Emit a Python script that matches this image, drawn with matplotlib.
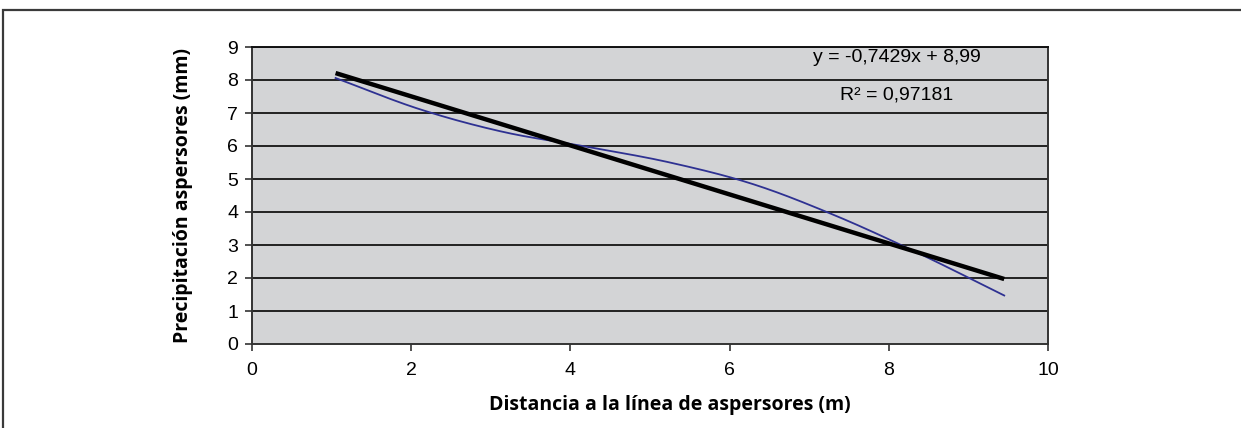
import numpy as np
import matplotlib
matplotlib.use('Agg')
import matplotlib.pyplot as plt
from matplotlib.patches import Rectangle

# data
distancia = [1.05, 2.10, 3.15, 4.20, 5.25, 6.30, 7.35, 8.40, 9.45]
precipitacion = [8.06, 7.12, 6.43, 5.98, 5.50, 4.84, 3.87, 2.72, 1.47]
pendiente = -0.7429
ordenada = 8.99
r2 = 0.97181
xticks = [0, 2, 4, 6, 8, 10]
yticks = list(range(10))


def catmull_rom(x, y, n=30):
    # smoothed line like the spreadsheet does it
    x = np.asarray(x, float)
    y = np.asarray(y, float)
    px = np.concatenate([[2 * x[0] - x[1]], x, [2 * x[-1] - x[-2]]])
    py = np.concatenate([[2 * y[0] - y[1]], y, [2 * y[-1] - y[-2]]])
    xs, ys = [], []
    t = np.linspace(0, 1, n)
    for i in range(1, len(px) - 2):
        for p, out in ((px, xs), (py, ys)):
            p0, p1, p2, p3 = p[i - 1], p[i], p[i + 1], p[i + 2]
            out.extend(0.5 * ((2 * p1) + (-p0 + p2) * t
                              + (2 * p0 - 5 * p1 + 4 * p2 - p3) * t ** 2
                              + (-p0 + 3 * p1 - 3 * p2 + p3) * t ** 3))
    return np.array(xs), np.array(ys)


W, H = 1241, 428
fig = plt.figure(figsize=(W / 100, H / 100), dpi=100)
fig.patch.set_facecolor('white')

# outer frame (runs off the image on the right and bottom)
fig.patches.append(Rectangle((3 / W, -0.2), 1.2, 1.2 - 10 / H,
                             transform=fig.transFigure, fill=False,
                             edgecolor='#3a3a3a', lw=1.6))

ax = fig.add_axes([252 / W, 1 - 344 / H, (1048 - 252) / W, (344 - 47) / H])
ax.set_facecolor('#d3d4d6')
ax.set_xlim(0, 10)
ax.set_ylim(0, 9)
ax.set_xticks(xticks)
ax.set_yticks(yticks)

for v in yticks[1:]:
    ax.axhline(v, color='#222222', lw=1.4, zorder=1)

sx, sy = catmull_rom(distancia, precipitacion)
ax.plot(sx, sy, color='#2e3192', lw=1.3, zorder=3)

xt = np.array([distancia[0], distancia[-1]])
ax.plot(xt, pendiente * xt + ordenada, color='black', lw=3.2,
        solid_capstyle='butt', zorder=4)

tfont = dict(family='Liberation Sans', size=14)
ax.text(8.1, 8.67, 'y = -0,7429x + 8,99', ha='center', va='center', **tfont)
ax.text(8.1, 7.55, 'R² = ' + str(r2).replace('.', ','), ha='center',
        va='center', **tfont)

for s in ax.spines.values():
    s.set_color('#333333')
    s.set_linewidth(1.4)
ax.spines['top'].set_color('#111111')

ax.tick_params(direction='out', length=5, width=1.2, color='#333333',
               labelsize=14, pad=5)
for lab in ax.get_xticklabels() + ax.get_yticklabels():
    lab.set_fontfamily('Liberation Sans')
ax.tick_params(axis='x', pad=8)

lfont = dict(family='Open Sans', weight='bold', size=14)
ax.set_xlabel('Distancia a la línea de aspersores (m)', va='center', **lfont)
ax.set_ylabel('Precipitación aspersores (mm)', va='center', **lfont)
ax.xaxis.set_label_coords((670 - 252) / 796, -(405 - 344) / 297)
ax.yaxis.set_label_coords(-(252 - 183) / 796, 0.5)

fig.savefig('out.png', dpi=100)
